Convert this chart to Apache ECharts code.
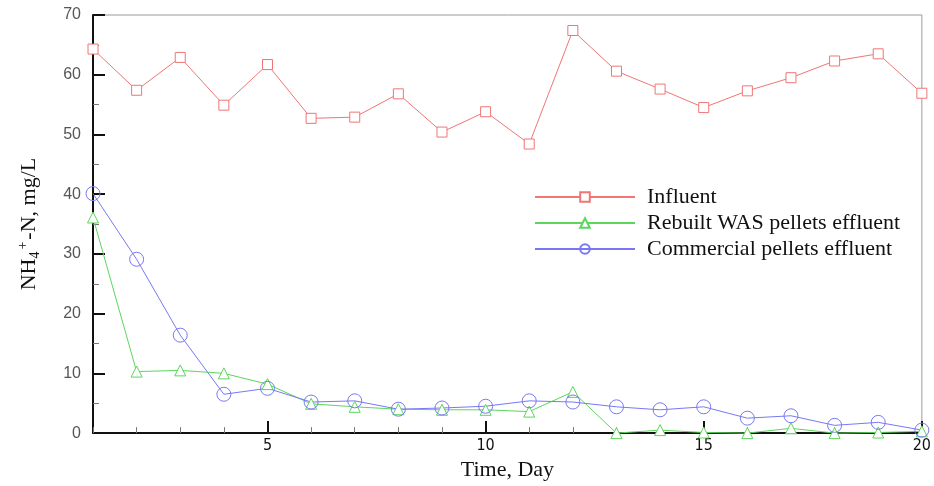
<!DOCTYPE html>
<html>
<head>
<meta charset="utf-8">
<script src="https://cdn.jsdelivr.net/npm/echarts@6/dist/echarts.min.js"></script>
<style>html,body{margin:0;padding:0;background:#fff}#c{width:934px;height:486px}</style>
</head>
<body>
<div id="c"></div>
<script>
const days = [1,2,3,4,5,6,7,8,9,10,11,12,13,14,15,16,17,18,19,20];
const influent = [64.3,57.4,62.9,54.9,61.7,52.7,52.9,56.8,50.4,53.8,48.4,67.4,60.6,57.6,54.5,57.3,59.5,62.3,63.5,56.9];
const rebuilt = [36.1,10.3,10.5,10.0,8.2,4.9,4.4,4.0,3.9,3.9,3.6,6.9,0,0.5,0.1,0,0.8,0,0.1,0.3];
const commercial = [40.1,29.1,16.4,6.5,7.5,5.2,5.4,4.0,4.2,4.5,5.4,5.2,4.4,3.9,4.4,2.5,2.9,1.3,1.8,0.5];
const seriesNames = ['Influent','Rebuilt WAS pellets effluent','Commercial pellets effluent'];
const xMajorTicks = [5,10,15,20];

const serif = '"Liberation Serif","Times New Roman",serif';
const pair = arr => days.map((d,i)=>[d,arr[i]]);

const chart = echarts.init(document.getElementById('c'), null, {renderer:'canvas'});
chart.setOption({
  animation:false,
  backgroundColor:'#fff',
  grid:{left:93,right:10,top:15,bottom:46,show:true,borderColor:'#9a9a9a',borderWidth:1,backgroundColor:'transparent'},
  legend:{
    orient:'vertical', left:529, top:181,
    itemWidth:100, itemHeight:12, itemGap:4,
    textStyle:{fontFamily:serif,fontSize:22,color:'#111',padding:[0,0,0,7]},
    data:seriesNames
  },
  xAxis:[{
    type:'value', min:1, max:20, interval:1,
    axisLine:{lineStyle:{color:'#111',width:2}},
    axisTick:{inside:true,length:6,lineStyle:{color:'#777',width:1}},
    axisLabel:{formatter:v=>(v%5===0?String(v):''),color:'#111',fontSize:16,margin:5,fontFamily:'"Liberation Sans Narrow","DejaVu Sans Condensed","Liberation Sans",sans-serif'},
    splitLine:{show:false},
    name:'Time, Day', nameLocation:'middle', nameGap:20,
    nameTextStyle:{fontFamily:serif,fontSize:22,color:'#111'}
  },{
    type:'value', min:1, max:20, position:'bottom',
    axisLine:{show:false},
    axisTick:{show:true,inside:true,length:12,customValues:xMajorTicks,lineStyle:{color:'#111',width:2}},
    axisLabel:{show:false,customValues:xMajorTicks},
    splitLine:{show:false}
  }],
  yAxis:{
    type:'value', min:0, max:70, interval:10,
    axisLine:{show:true,lineStyle:{color:'#111',width:2}},
    axisTick:{inside:true,length:12,lineStyle:{color:'#111',width:2}},
    minorTick:{show:true,splitNumber:2,length:6,lineStyle:{color:'#777',width:1}},
    axisLabel:{color:'#555',fontSize:16,margin:12,fontFamily:'"Liberation Sans",Arial,sans-serif'},
    splitLine:{show:false},
    name:'{t|NH}{sub|4}{sup|+}{t|-N, mg/L}', nameLocation:'middle', nameGap:50,
    nameTextStyle:{fontFamily:serif,fontSize:22,color:'#111',
      rich:{
        t:{fontFamily:serif,fontSize:22,color:'#111'},
        sub:{fontFamily:serif,fontSize:14,color:'#111',padding:[11,0,0,0]},
        sup:{fontFamily:serif,fontSize:14,color:'#111',padding:[0,2,13,2]}
      }}
  },
  series:[
    {name:seriesNames[0],type:'line',data:pair(influent),clip:false,symbol:'rect',symbolSize:10,
     itemStyle:{color:'#fff',borderColor:'#f07575',borderWidth:1},lineStyle:{color:'#f07575',width:1},color:'#f07575'},
    {name:seriesNames[1],type:'line',data:pair(rebuilt),clip:false,symbol:'triangle',symbolSize:11,
     itemStyle:{color:'#fff',borderColor:'#5cd65c',borderWidth:1},lineStyle:{color:'#5cd65c',width:1},color:'#5cd65c'},
    {name:seriesNames[2],type:'line',data:pair(commercial),clip:false,symbol:'circle',symbolSize:14,
     itemStyle:{color:'transparent',borderColor:'#7878f5',borderWidth:1},lineStyle:{color:'#7878f5',width:1},color:'#7878f5'}
  ]
});
</script>
</body>
</html>
